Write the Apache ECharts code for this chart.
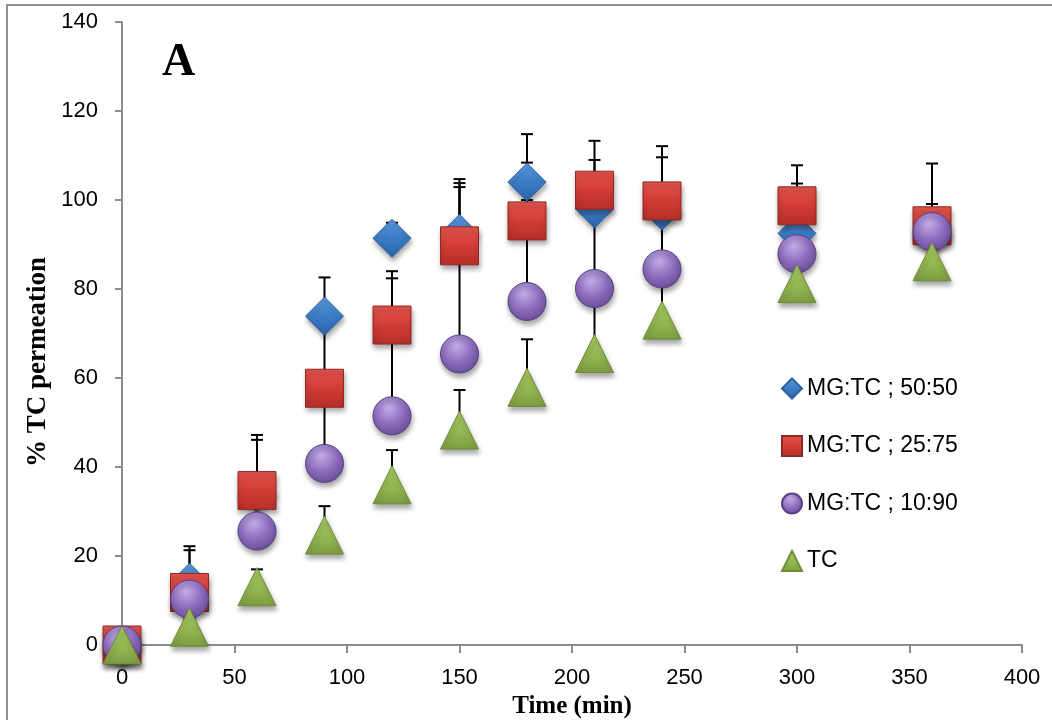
<!DOCTYPE html>
<html>
<head>
<meta charset="utf-8">
<script src="https://cdn.jsdelivr.net/npm/echarts@6/dist/echarts.min.js"></script>
<style>html,body{margin:0;padding:0;background:#fff;}#c{width:1052px;height:720px;}</style>
</head>
<body>
<div id="c"></div>
<script>
const times = [0, 30, 60, 90, 120, 150, 180, 210, 240, 300, 360];
const mg5050 = [0, 14.1, 34.0, 73.9, 91.4, 92.5, 104.0, 98.0, 97.5, 92.5, 92.3];
const mg5050Upper = [0, 22.2, 47.2, 82.6, 94.9, 104.7, 114.8, 113.3, 112.1, 103.7, 108.2];
const mg2575 = [0, 11.8, 34.7, 57.7, 71.9, 89.7, 95.3, 102.2, 99.8, 98.7, 94.2];
const mg2575Upper = [0, 21.3, 46.1, 72.0, 84.0, 103.8, 108.4, 109.0, 109.6, 107.8, 99.1];
const mg1090 = [0, 10.3, 25.6, 40.8, 51.5, 65.4, 77.2, 80.1, 84.5, 87.9, 92.9];
const mg1090Upper = [0, 13.0, 31.0, 60.0, 82.4, 102.9, 100.0, 98.0, 97.0, 95.0, 96.0];
const tc = [0, 4.0, 13.1, 24.7, 36.0, 48.3, 57.9, 65.5, 73.0, 81.2, 86.1];
const tcUpper = [0, 6.0, 17.0, 31.2, 43.8, 57.3, 68.7, 78.0, 82.0, 85.0, 89.0];
const seriesNames = ['MG:TC ; 50:50', 'MG:TC ; 25:75', 'MG:TC ; 10:90', 'TC'];
const xTicks = [0, 50, 100, 150, 200, 250, 300, 350, 400];
const yTicks = [0, 20, 40, 60, 80, 100, 120, 140];
const xTitle = 'Time (min)';
const yTitle = '% TC permeation';
const panelLabel = 'A';

const G = echarts.graphic;
const styles = [
  { symbol: 'diamond', color: new G.LinearGradient(0, 0, 0, 1, [{offset: 0, color: '#5a9be0'}, {offset: 0.5, color: '#3b7cc6'}, {offset: 1, color: '#2a64a8'}]), border: '#2b5f9e' },
  { symbol: 'rect', color: new G.LinearGradient(0, 0, 0, 1, [{offset: 0, color: '#e4554e'}, {offset: 0.5, color: '#d23c35'}, {offset: 1, color: '#b52e29'}]), border: '#8e2a26' },
  { symbol: 'circle', color: new G.RadialGradient(0.42, 0.3, 0.75, [{offset: 0, color: '#c2ace6'}, {offset: 0.55, color: '#8c6cbd'}, {offset: 1, color: '#664a94'}]), border: '#5a4184' },
  { symbol: 'triangle', color: new G.LinearGradient(0, 0, 0, 1, [{offset: 0, color: '#a8ca62'}, {offset: 0.6, color: '#93b551'}, {offset: 1, color: '#7c9c40'}]), border: '#6f8c38' }
];
const vals = [mg5050, mg2575, mg1090, tc];
const ups = [mg5050Upper, mg2575Upper, mg1090Upper, tcUpper];

function errRender(params, api) {
  const x = api.value(0), lo = api.value(1), hi = api.value(2);
  if (!(hi > lo)) return null;
  const p0 = api.coord([x, lo]);
  const p1 = api.coord([x, hi]);
  return {
    type: 'group',
    children: [
      { type: 'line', shape: { x1: p0[0], y1: p0[1], x2: p1[0], y2: p1[1] }, style: { stroke: '#000', lineWidth: 2 } },
      { type: 'line', shape: { x1: p1[0] - 6, y1: p1[1], x2: p1[0] + 6, y2: p1[1] }, style: { stroke: '#000', lineWidth: 2 } }
    ]
  };
}

const series = [];
vals.forEach((v, i) => {
  series.push({
    type: 'custom',
    name: seriesNames[i] + ' err',
    renderItem: errRender,
    encode: { x: 0, y: [1, 2] },
    data: times.map((t, k) => [t, v[k], ups[i][k]]),
    z: 1,
    silent: true
  });
});
vals.forEach((v, i) => {
  series.push({
    type: 'scatter',
    name: seriesNames[i],
    symbol: styles[i].symbol,
    symbolSize: 38,
    data: times.map((t, k) => [t, v[k]]),
    z: 3 + i,
    itemStyle: {
      color: styles[i].color,
      borderColor: styles[i].border,
      borderWidth: 1,
      opacity: 1,
      shadowColor: 'rgba(0,0,0,0.35)',
      shadowBlur: 5,
      shadowOffsetX: 1,
      shadowOffsetY: 4
    }
  });
});

const chart = echarts.init(document.getElementById('c'), null, { renderer: 'canvas' });
chart.setOption({
  animation: false,
  backgroundColor: '#fff',
  grid: { left: 122, right: 30, top: 22, bottom: 75, containLabel: false, outerBoundsMode: 'none' },
  xAxis: {
    type: 'value', min: xTicks[0], max: xTicks[xTicks.length - 1], interval: 50,
    name: xTitle, nameLocation: 'middle', nameGap: 49,
    nameTextStyle: { fontFamily: 'Liberation Serif', fontWeight: 'bold', fontSize: 25, color: '#000' },
    axisLine: { show: true, lineStyle: { color: '#8c8c8c', width: 2 } },
    axisTick: { show: true, length: 8, lineStyle: { color: '#8c8c8c', width: 2 } },
    axisLabel: { fontFamily: 'Liberation Sans', fontSize: 22, color: '#000', margin: 22 },
    splitLine: { show: false }
  },
  yAxis: {
    type: 'value', min: yTicks[0], max: yTicks[yTicks.length - 1], interval: 20,
    axisLine: { show: true, lineStyle: { color: '#8c8c8c', width: 2 } },
    axisTick: { show: true, length: 7, lineStyle: { color: '#8c8c8c', width: 2 } },
    axisLabel: { fontFamily: 'Liberation Sans', fontSize: 22, color: '#000', margin: 24 },
    splitLine: { show: false }
  },
  legend: {
    data: seriesNames,
    orient: 'vertical',
    left: 781, top: 377, padding: 0,
    itemWidth: 20, itemHeight: 20, itemGap: 34.5,
    textStyle: { fontFamily: 'Liberation Sans', fontSize: 23, color: '#000' },
    selectedMode: false
  },
  graphic: [
    { type: 'rect', shape: { x: 7, y: 5, width: 1200, height: 900 }, style: { fill: 'none', stroke: '#909090', lineWidth: 2 }, z: 0, silent: true },
    { type: 'text', x: 162, y: 40, style: { text: panelLabel, font: 'bold 46px "Liberation Serif"', fill: '#000' }, z: 10 },
    { type: 'text', x: 38, y: 362, rotation: Math.PI / 2, style: { text: yTitle, font: 'bold 27px "Liberation Serif"', fill: '#000', align: 'center', verticalAlign: 'middle' }, z: 10 }
  ],
  series: series
});
</script>
</body>
</html>
